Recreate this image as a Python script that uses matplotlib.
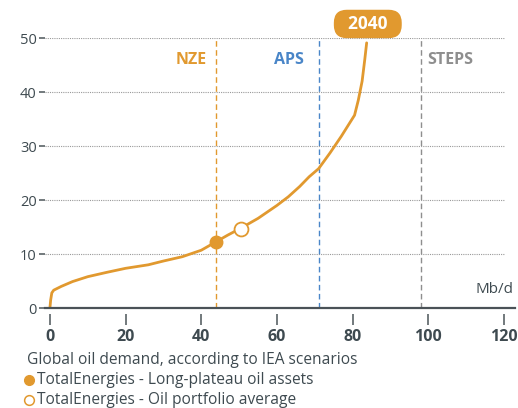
import matplotlib.pyplot as plt
import numpy as np

plt.rcParams['font.family'] = ['Open Sans', 'DejaVu Sans']

# Courbe de demande (Mb/d vs coût)
demand = [0, 0.2, 0.5, 1, 3, 6, 10, 15, 20, 26, 30, 35, 40, 44, 47, 50.5,
          55, 60, 63, 66, 68.5, 71, 74, 77, 80.5, 81.5, 82.5, 83.2, 83.7]
cost = [0, 1.5, 2.8, 3.3, 4.0, 4.9, 5.8, 6.6, 7.35, 8.0, 8.7, 9.5, 10.7, 12.3, 13.5, 14.8,
        16.6, 19.0, 20.6, 22.5, 24.3, 25.8, 28.7, 31.8, 35.7, 38.5, 42, 46, 49.1]

scenarios = ['NZE', 'APS', 'STEPS']
scenario_x = [44, 71, 98]

long_plateau = (44, 12.3)
portfolio_avg = (50.5, 14.7)

x_ticks = [0, 20, 40, 60, 80, 100, 120]
y_ticks = [0, 10, 20, 30, 40, 50]

ORANGE = '#E1992F'
BLUE = '#4A86C8'
GREY = '#8E8E8E'
TEXT = '#3E4A50'

fig = plt.figure(figsize=(5.18, 4.08), dpi=100)
ax = fig.add_axes([45 / 518, 1 - 308 / 408, 470 / 518, 270 / 408])
ax.set_xlim(-1.3, 122.9)
ax.set_ylim(0, 50)

# grille pointillée
for y in y_ticks[1:]:
    ax.plot([-1.3, 120.3], [y, y], color='#9A9A9A', lw=0.8, ls=(0, (1, 1)), zorder=1)

# lignes des scénarios
colors = [ORANGE, BLUE, GREY]
for name, xv, c in zip(scenarios, scenario_x, colors):
    ax.plot([xv, xv], [0, 50], color=c, lw=1.0, ls=(0, (4, 2.5)), zorder=2)

ax.text(41.5, 45.9, 'NZE', color=ORANGE, fontsize=11.5, fontweight='bold', ha='right', va='center')
ax.text(63.2, 45.9, 'APS', color=BLUE, fontsize=11.5, fontweight='bold', ha='center', va='center')
ax.text(105.7, 45.9, 'STEPS', color=GREY, fontsize=11.5, fontweight='bold', ha='center', va='center')

ax.plot(demand, cost, color=ORANGE, lw=2.0, zorder=3, solid_capstyle='round')
ax.plot(*long_plateau, 'o', ms=9, color=ORANGE, zorder=4)
ax.plot(*portfolio_avg, 'o', ms=10, mfc='white', mec=ORANGE, mew=1.3, zorder=4)

ax.text(84, 52.6, '  2040  ', color='white', fontsize=12.5, fontweight='bold', ha='center', va='center',
        bbox=dict(boxstyle='round,pad=0.3,rounding_size=0.75', fc=ORANGE, ec='none'), clip_on=False)

# axe x
ax.axhline(0, color='#4A5257', lw=1.6, zorder=5, clip_on=False)
for s in ['top', 'right', 'left']:
    ax.spines[s].set_visible(False)
ax.spines['bottom'].set_position(('outward', 4))
ax.spines['bottom'].set_visible(False)

ax.set_xticks(x_ticks)
ax.set_yticks(y_ticks)
ax.tick_params(axis='x', length=8, width=1.2, color='#5A6266', pad=3, labelsize=11.5, labelcolor=TEXT)
ax.tick_params(axis='y', length=4, width=1.2, color='#5A6266', pad=2, labelsize=10.5, labelcolor=TEXT)
for lab in ax.get_xticklabels():
    lab.set_fontweight('bold')

ax.text(122.5, 2.0, 'Mb/d', color=TEXT, fontsize=11, ha='right', va='bottom')

# légende en bas
fig.text(27 / 518, 1 - 360 / 408, 'Global oil demand, according to IEA scenarios',
         color=TEXT, fontsize=11.2, va='center', ha='left')
fig.text(37 / 518, 1 - 380 / 408, 'TotalEnergies - Long-plateau oil assets',
         color=TEXT, fontsize=11.2, va='center', ha='left')
fig.text(37 / 518, 1 - 400 / 408, 'TotalEnergies - Oil portfolio average',
         color=TEXT, fontsize=11.2, va='center', ha='left')
fig.lines.append(plt.Line2D([29 / 518], [1 - 380 / 408], marker='o', ms=7, color=ORANGE,
                            transform=fig.transFigure))
fig.lines.append(plt.Line2D([29 / 518], [1 - 400 / 408], marker='o', ms=7, mfc='white', mec=ORANGE,
                            mew=1.1, transform=fig.transFigure))

fig.savefig('out.png', dpi=100)
